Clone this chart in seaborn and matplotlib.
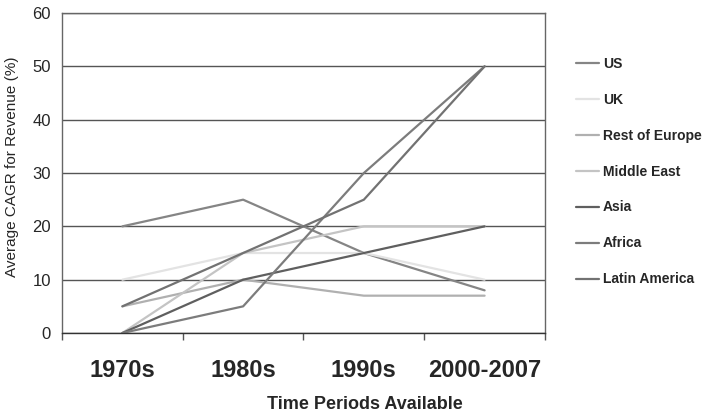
import matplotlib
matplotlib.use('Agg')
import matplotlib.pyplot as plt
import numpy as np
import pandas as pd
import seaborn as sns

periods = ['1970s', '1980s', '1990s', '2000-2007']
regions = ['US', 'UK', 'Rest of Europe', 'Middle East', 'Asia', 'Africa', 'Latin America']
us = [20, 25, 15, 8]
uk = [10, 15, 15, 10]
rest_of_europe = [5, 10, 7, 7]
middle_east = [0, 15, 20, 20]
asia = [0, 10, 15, 20]
africa = [0, 5, 30, 50]
latin_america = [5, 15, 25, 50]
colors = ['#858585', '#e3e3e3', '#b0b0b0', '#c4c4c4', '#5f5f5f', '#7c7c7c', '#727272']

values = [us, uk, rest_of_europe, middle_east, asia, africa, latin_america]
rows = []
for reg, vals in zip(regions, values):
    for i, v in enumerate(vals):
        rows.append({'Region': reg, 'pos': i, 'CAGR': v})
df = pd.DataFrame(rows)

sns.set_style('white')
plt.rcParams['font.family'] = ['Liberation Sans', 'DejaVu Sans']

fig = plt.figure(figsize=(7.11, 4.17), dpi=100)
ax = fig.add_axes([0.0872, 0.2014, 0.6793, 0.7674])

ax.set_ylim(0, 60)
ax.set_yticks(range(0, 61, 10))
ax.grid(axis='y', color='#555555', linewidth=1.0)
ax.set_axisbelow(True)

sns.lineplot(data=df, x='pos', y='CAGR', hue='Region', hue_order=regions,
             palette=colors, linewidth=1.6, ax=ax, legend=False)

ax.set_xlim(-0.5, 3.5)
ax.set_xticks(range(len(periods)))
ax.set_xticklabels(periods, fontsize=17, fontweight='bold')
ax.set_xticks(np.arange(-0.5, 3.6, 1.0), minor=True)
ax.tick_params(axis='x', which='major', length=0, pad=18.5)
ax.tick_params(axis='x', which='minor', length=5, width=1, color='#555555', direction='out')
ax.tick_params(axis='y', length=6, width=1, color='#555555', direction='out', labelsize=12, pad=2)
ax.xaxis.set_tick_params(bottom=True, which='both')

for s in ax.spines.values():
    s.set_color('#666666')
    s.set_linewidth(1.0)
ax.spines['bottom'].set_color('#333333')

ax.set_xlabel('Time Periods Available', fontsize=13, fontweight='bold')
ax.xaxis.set_label_coords(0.627, -0.196)
ax.set_ylabel('Average CAGR for Revenue (%)', fontsize=11)
ax.yaxis.set_label_coords(-0.09, 0.52)

handles = [plt.Line2D([], [], color=c, linewidth=1.6) for c in colors]
fig.legend(handles, regions, loc='upper left', bbox_to_anchor=(0.793, 0.894),
           frameon=False, prop={'size': 10, 'weight': 'bold'},
           labelspacing=1.58, handlelength=1.6, handletextpad=0.3)

fig.savefig('out.png', dpi=100)
